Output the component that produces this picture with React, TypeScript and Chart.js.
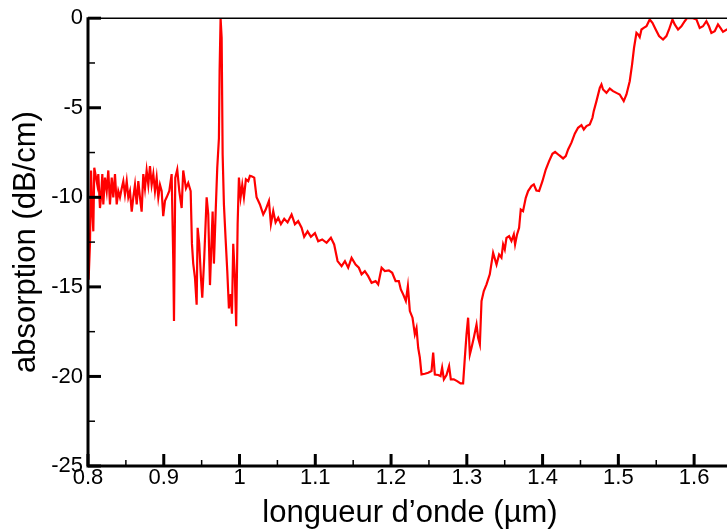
import React, { useEffect, useRef } from "react";
import { Chart, registerables } from "chart.js";

Chart.register(...registerables);

// wavelength (µm)
const wavelengthUm = [
  0.8008, 0.8026, 0.804, 0.8057, 0.807, 0.8083, 0.8106, 0.8123, 0.8136, 0.8158,
  0.8172, 0.8189, 0.8202, 0.8224, 0.8247, 0.8268, 0.829, 0.8313, 0.8334, 0.8356,
  0.8379, 0.84, 0.8422, 0.8445, 0.8466, 0.8488, 0.8511, 0.8532, 0.8554, 0.8577,
  0.8598, 0.862, 0.8643, 0.8664, 0.8686, 0.8708, 0.873, 0.8752, 0.8774, 0.8796,
  0.8818, 0.884, 0.8862, 0.8884, 0.8906, 0.8928, 0.895, 0.8972, 0.8993, 0.9016,
  0.9038, 0.9073, 0.9104, 0.9125, 0.9135, 0.9152, 0.9178, 0.9205, 0.9236, 0.9257,
  0.9293, 0.9323, 0.9355, 0.9372, 0.9389, 0.9412, 0.9434, 0.9447, 0.9468, 0.9491,
  0.9508, 0.9534, 0.9566, 0.9587, 0.961, 0.9632, 0.9645, 0.9662, 0.9685, 0.9706,
  0.9728, 0.9737, 0.975, 0.9764, 0.9777, 0.9794, 0.9816, 0.9838, 0.986, 0.9883,
  0.99, 0.9917, 0.9939, 0.9956, 0.9975, 0.9992, 1.0014, 1.0036, 1.0058, 1.0084,
  1.0115, 1.0137, 1.0159, 1.0194, 1.0225, 1.0269, 1.0313, 1.0344, 1.0388, 1.0414,
  1.0445, 1.0476, 1.0511, 1.0546, 1.059, 1.0634, 1.0687, 1.0731, 1.0774, 1.0819,
  1.0853, 1.0898, 1.0942, 1.0995, 1.1038, 1.1091, 1.1149, 1.1206, 1.1249, 1.1294,
  1.1347, 1.1391, 1.1434, 1.1479, 1.1532, 1.1575, 1.1611, 1.1654, 1.1698, 1.1743,
  1.1796, 1.183, 1.1875, 1.1918, 1.1971, 1.2015, 1.206, 1.2103, 1.2129, 1.216,
  1.2195, 1.2222, 1.2248, 1.2283, 1.2314, 1.2336, 1.2358, 1.238, 1.2402, 1.2446,
  1.249, 1.2534, 1.2556, 1.2578, 1.2622, 1.2653, 1.2674, 1.2697, 1.2732, 1.2766,
  1.2789, 1.2828, 1.2872, 1.2917, 1.2951, 1.2974, 1.2996, 1.3017, 1.304, 1.3062,
  1.3092, 1.3128, 1.3149, 1.3172, 1.3194, 1.3224, 1.326, 1.3303, 1.3347, 1.3392,
  1.3426, 1.3457, 1.3479, 1.3501, 1.3523, 1.3558, 1.3589, 1.362, 1.3637, 1.3663,
  1.369, 1.3712, 1.3742, 1.3778, 1.3809, 1.3853, 1.3884, 1.3918, 1.3954, 1.3998,
  1.4042, 1.4086, 1.413, 1.4165, 1.4218, 1.4271, 1.4306, 1.4337, 1.4381, 1.4425,
  1.4468, 1.4513, 1.4544, 1.4579, 1.4623, 1.4658, 1.4675, 1.4711, 1.4755, 1.4777,
  1.4798, 1.4843, 1.4887, 1.493, 1.4975, 1.5018, 1.5071, 1.5107, 1.515, 1.5181,
  1.5207, 1.5239, 1.526, 1.5282, 1.5305, 1.5335, 1.5371, 1.5414, 1.545, 1.5493,
  1.5537, 1.559, 1.5634, 1.5669, 1.5714, 1.5744, 1.5788, 1.5832, 1.5876, 1.5906,
  1.5985, 1.603, 1.6074, 1.6117, 1.6162, 1.6196, 1.6228, 1.6272, 1.6315, 1.6347,
  1.6381, 1.643, 1.647, 1.65,
];

// absorption (dB/cm)
const absorptionDb = [
  -14.6, -12.6, -8.5, -10.8, -11.9, -8.35, -8.9, -9.3, -8.7, -10.6,
  -10.0, -8.7, -10.4, -8.9, -9.65, -8.5, -10.4, -8.9, -10.0, -8.7,
  -10.4, -9.65, -10.0, -9.5, -9.1, -9.85, -9.1, -10.0, -9.65, -10.8,
  -10.0, -9.3, -10.4, -9.1, -10.0, -10.8, -8.7, -9.5, -8.5, -9.3,
  -8.26, -9.3, -8.7, -9.65, -8.9, -10.0, -9.3, -9.65, -11.05, -10.2,
  -10.0, -9.65, -8.7, -13.4, -16.9, -8.9, -8.45, -9.65, -10.6, -8.5,
  -9.5, -9.2, -9.65, -12.6, -13.7, -14.5, -16.0, -11.7, -12.6, -14.5,
  -15.6, -13.4, -10.0, -10.95, -14.9, -12.3, -10.8, -13.7, -10.8, -8.35,
  -6.7, -2.96, 0, -1.1, -7.6, -10.4, -12.3, -14.1, -16.2, -15.4,
  -16.5, -12.6, -14.5, -17.2, -11.5, -8.9, -10.0, -9.3, -10.0, -9.0,
  -9.1, -8.8, -8.82, -8.9, -10.0, -10.4, -10.96, -10.7, -10.2, -11.5,
  -10.77, -11.4, -11.14, -11.5, -11.2, -11.4, -10.96, -11.5, -11.33, -11.7,
  -12.2, -11.9, -12.2, -12.0, -12.45, -12.35, -12.54, -12.26, -12.63, -13.56,
  -13.84, -13.56, -13.93, -13.38, -13.75, -13.93, -14.3, -14.12, -14.4, -14.77,
  -14.68, -14.86, -13.93, -14.12, -14.08, -14.21, -14.68, -14.68, -15.14, -15.42,
  -15.79, -14.95, -16.35, -16.72, -17.65, -17.3, -18.4, -18.95, -19.89, -19.85,
  -19.79, -19.7, -18.67, -19.89, -19.92, -19.98, -19.51, -20.16, -19.92, -19.42,
  -20.16, -20.16, -20.26, -20.39, -20.39, -18.95, -17.65, -16.72, -18.77, -18.4,
  -17.84, -17.1, -17.84, -18.21, -15.79, -15.23, -14.86, -14.3, -13.1, -13.75,
  -13.19, -13.37, -12.63, -12.91, -12.26, -12.17, -12.44, -12.07, -12.63, -12.07,
  -11.7, -10.68, -10.77, -10.03, -9.65, -9.37, -9.28, -9.62, -9.65, -9.1,
  -8.45, -7.98, -7.57, -7.46, -7.65, -7.83, -7.7, -7.33, -6.95, -6.45,
  -6.12, -5.97, -6.21, -6.02, -5.93, -5.56, -5.19, -4.63, -3.89, -3.7,
  -3.98, -4.17, -3.93, -4.07, -4.17, -4.26, -4.63, -4.26, -3.52, -2.59,
  -1.65, -0.82, -0.91, -1.06, -0.63, -0.54, -0.45, -0.07, -0.26, -0.63,
  -1.0, -1.19, -1.0, -0.63, -0.07, -0.35, -0.63, -0.45, -0.17, 0,
  0, -0.07, -0.54, -0.45, -0.17, -0.45, -0.82, -0.73, -0.35, -0.54,
  -0.76, -0.63, -0.6, -0.55,
];

const xMajorTicks = [0.8, 0.9, 1.0, 1.1, 1.2, 1.3, 1.4, 1.5, 1.6];
const xMinorTicks = [0.85, 0.95, 1.05, 1.15, 1.25, 1.35, 1.45, 1.55, 1.65];
const yMajorTicks = [0, -5, -10, -15, -20, -25];
const yMinorTicks = [-2.5, -7.5, -12.5, -17.5, -22.5];
const xTitle = "longueur d’onde (µm)";
const yTitle = "absorption (dB/cm)";

const FONT = "'Liberation Sans', Arial, Helvetica, sans-serif";

const isIn = (list: number[], v: number) => list.some((m) => Math.abs(m - v) < 1e-6);

const axesPlugin = {
  id: "graceAxes",
  afterDraw(chart: any) {
    const { ctx, chartArea } = chart;
    const { left, right, top, bottom } = chartArea;
    const xs = chart.scales.x;
    const ys = chart.scales.y;
    ctx.save();
    ctx.strokeStyle = "#000";
    ctx.lineCap = "butt";
    // top frame line
    ctx.lineWidth = 1.5;
    ctx.beginPath();
    ctx.moveTo(left, top);
    ctx.lineTo(right + 10, top);
    ctx.stroke();
    const drawX = (vals: number[], len: number, w: number) => {
      ctx.lineWidth = w;
      vals.forEach((v) => {
        const px = xs.getPixelForValue(v);
        ctx.beginPath();
        ctx.moveTo(px, bottom);
        ctx.lineTo(px, bottom - len);
        ctx.stroke();
      });
    };
    const drawY = (vals: number[], len: number, w: number) => {
      ctx.lineWidth = w;
      vals.forEach((v) => {
        const py = ys.getPixelForValue(v);
        ctx.beginPath();
        ctx.moveTo(left, py);
        ctx.lineTo(left + len, py);
        ctx.stroke();
      });
    };
    drawX(xMajorTicks, 12, 3);
    drawX(xMinorTicks, 6, 1.5);
    drawY(yMajorTicks, 13, 3);
    drawY(yMinorTicks, 7, 1.5);
    // left and bottom axis lines
    ctx.lineWidth = 3;
    ctx.beginPath();
    ctx.moveTo(left, top - 1);
    ctx.lineTo(left, bottom);
    ctx.lineTo(right + 10, bottom);
    ctx.stroke();
    ctx.restore();
  },
};

export default function App() {
  const canvasRef = useRef<HTMLCanvasElement | null>(null);

  useEffect(() => {
    if (!canvasRef.current) return;
    const points = wavelengthUm.map((w, i) => ({ x: w, y: absorptionDb[i] }));
    const chart = new Chart(canvasRef.current, {
      type: "line",
      data: {
        datasets: [
          {
            data: points,
            borderColor: "#ff0000",
            borderWidth: 2.2,
            pointRadius: 0,
            fill: false,
            tension: 0,
          },
        ],
      },
      options: {
        animation: false,
        responsive: false,
        devicePixelRatio: 1,
        layout: { padding: { top: 17, right: 8, left: 0, bottom: 0 } },
        plugins: {
          legend: { display: false },
          tooltip: { enabled: false },
        },
        scales: {
          x: {
            type: "linear",
            min: 0.8,
            max: 1.65,
            grid: { display: false, drawTicks: false },
            border: { display: false },
            afterBuildTicks: (axis: any) => {
              axis.ticks = [...xMajorTicks, ...xMinorTicks]
                .sort((a, b) => a - b)
                .map((value) => ({ value }));
            },
            afterFit: (axis: any) => {
              axis.height = 65;
            },
            ticks: {
              autoSkip: false,
              maxRotation: 0,
              padding: 1,
              color: "#000",
              font: { family: FONT, size: 22, lineHeight: 1 },
              callback: (v: any) => (isIn(xMajorTicks, Number(v)) ? String(+Number(v).toFixed(1)) : ""),
            },
            title: {
              display: true,
              text: xTitle,
              color: "#000",
              font: { family: FONT, size: 31 },
              padding: { top: 0, bottom: -1 },
            },
          },
          y: {
            type: "linear",
            min: -25,
            max: 0,
            grid: { display: false, drawTicks: false },
            border: { display: false },
            afterBuildTicks: (axis: any) => {
              axis.ticks = [...yMajorTicks, ...yMinorTicks]
                .sort((a, b) => a - b)
                .map((value) => ({ value }));
            },
            afterFit: (axis: any) => {
              axis.width = 88;
            },
            ticks: {
              autoSkip: false,
              padding: 5,
              color: "#000",
              font: { family: FONT, size: 22 },
              callback: (v: any) => (isIn(yMajorTicks, Number(v)) ? String(Math.round(Number(v))) : ""),
            },
            title: {
              display: true,
              text: yTitle,
              color: "#000",
              font: { family: FONT, size: 31 },
              padding: { top: 8, bottom: 0 },
            },
          },
        },
      },
      plugins: [axesPlugin],
    });
    return () => chart.destroy();
  }, []);

  return (
    <div
      style={{
        position: "fixed",
        left: 0,
        top: 0,
        width: 727,
        height: 531,
        overflow: "hidden",
        background: "#fff",
      }}
    >
      <canvas ref={canvasRef} width={740} height={531} style={{ display: "block" }} />
    </div>
  );
}
